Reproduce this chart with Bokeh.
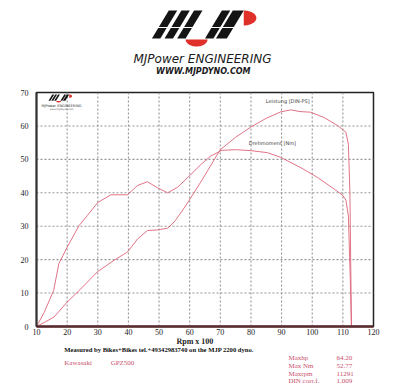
import math
from bokeh.plotting import figure
from bokeh.layouts import column
from bokeh.models import Range1d, FixedTicker, Span
from bokeh.core.properties import value
from bokeh.embed import file_html
from bokeh.resources import INLINE

# ---------------- data ----------------
rpm_power = [10, 12.5, 15.7, 20, 24.4, 29.8, 35.3, 39.7, 43, 46.2, 49.5, 52.8, 54.9, 57.5,
             59.8, 63.6, 66.9, 70, 75, 80, 85, 89.7, 93, 96, 99.5, 103.9, 108.3, 111,
             111.8, 112.3, 112.8]
power_ps = [0, 1.2, 2.8, 7.3, 11.2, 16.3, 19.8, 22.3, 26.2, 28.7, 28.9, 29.4, 31.2, 34.5,
            37.7, 43.2, 48.2, 52.9, 56.6, 59.7, 62.3, 64.2, 64.8, 64.3, 64.1, 62.5, 60.1, 58.1,
            54.5, 40, 0]
rpm_torque = [10, 12.5, 15.6, 17.3, 20, 23.9, 26.6, 30, 34.3, 39.7, 43, 46.2, 49.5, 52.8,
              56, 59.3, 63.7, 66.9, 70.5, 75, 80, 85.4, 89.7, 96.3, 101.7, 107.2, 110, 111,
              111.8, 112.4, 112.8]
torque_nm = [0, 4.2, 10.8, 18.8, 23.7, 30.2, 33.2, 37.1, 39.4, 39.4, 42.2, 43.3, 41.5, 40.0,
             41.6, 44.5, 48.5, 51.0, 52.7, 52.9, 52.6, 52.0, 50.6, 47.5, 44.6, 41.1, 39.2, 37.8,
             33, 15, 0]
x_ticks = [10, 20, 30, 40, 50, 60, 70, 80, 90, 100, 110, 120]
y_ticks = [0, 10, 20, 30, 40, 50, 60, 70]
curve_labels = ["Leistung [DIN-PS]", "Drehmoment [Nm]"]
curve_label_rpm = [92.0, 87.0]
curve_label_val = [67.6, 54.9]
info_names = ["Maxhp", "Max Nm", "Maxrpm", "DIN corr.f."]
info_values = ["64.20", "52.77", "11291", "1.009"]
bike_make = "Kawasaki"
bike_model = "GPZ500"
measured_text = "Measured by Bikes+Bikes tel.+49342983740 on the MJP 2200 dyno."
x_title = "Rpm x 100"

CURVE = "#dc6478"
PINK = "#c8506c"
GRID = "#959595"
SERIF_NAME = "Liberation Serif"
SERIF = value(SERIF_NAME)
W = 400


def draw_logo(fig, ox, oy, sx, sy, gap=True):
    bars = [(0, 10), (15, 10), (30, 10), (63, 10), (76, 13)]
    xs, ys = [], []
    for b, w in bars:
        xs.append([ox + b * sx, ox + (b + w) * sx, ox + (b + w + 20) * sx, ox + (b + 20) * sx])
        ys.append([oy + 28 * sy, oy + 28 * sy, oy, oy])
    fig.patches(xs, ys, fill_color="#141414", line_color=None)
    n = 30
    ax = [ox + (53 + 13 * math.cos(math.pi * i / n)) * sx for i in range(n + 1)]
    ay = [oy + (29 + 7 * math.sin(math.pi * i / n)) * sy for i in range(n + 1)]
    fig.patch(ax, ay, fill_color="#e0302a", line_color=None)
    bx = [ox + (109 + 15 * math.cos(-math.pi / 2 + math.pi * i / n)) * sx for i in range(n + 1)]
    by = [oy + (7.5 + 7.5 * math.sin(-math.pi / 2 + math.pi * i / n)) * sy for i in range(n + 1)]
    fig.patch(bx, by, fill_color="#e0302a", line_color=None)
    if gap:
        fig.line([ox - 2 * sx, ox + 126 * sx], [oy + 17 * sy, oy + 17 * sy], line_color="white", line_width=1.2)


# ---------------- header (picture pixels 0..84) ----------------
hdr = figure(width=W, height=84, x_range=Range1d(0, 400), y_range=Range1d(84, 0),
             x_axis_type=None, y_axis_type=None, toolbar_location=None, output_backend="svg",
             min_border=0)
hdr.grid.visible = False
hdr.outline_line_color = None
draw_logo(hdr, 137, 10, 1.0, 1.0)
hdr.text(x=[197], y=[58], text=["MJPower ENGINEERING"], text_font=value("DejaVu Sans"),
         text_font_style="italic", text_font_size="12px", text_color="#1a1a1a",
         text_align="center", text_baseline="middle")
hdr.text(x=[198], y=[71], text=["WWW.MJPDYNO.COM"], text_font=value("DejaVu Sans"),
         text_font_style="bold italic", text_font_size="8px", text_color="#1a1a1a",
         text_align="center", text_baseline="middle")

# ---------------- chart (picture pixels 84..338) ----------------
p = figure(width=W, height=254, x_range=Range1d(10, 120), y_range=Range1d(0, 70),
           toolbar_location=None, output_backend="svg",
           min_border_left=36, min_border_right=27, min_border_top=8, min_border_bottom=12)
p.outline_line_color = "#222222"
p.outline_line_width = 1.5
p.xaxis.ticker = FixedTicker(ticks=x_ticks)
p.yaxis.ticker = FixedTicker(ticks=y_ticks)
for axs in (p.xaxis, p.yaxis):
    axs.major_tick_in = 0
    axs.major_tick_out = 0
    axs.minor_tick_line_color = None
    axs.major_label_text_font = SERIF_NAME
    axs.major_label_text_font_size = "8px"
    axs.major_label_text_color = "#222222"
p.xaxis.major_label_standoff = 2
p.yaxis.major_label_standoff = 8
p.xaxis.axis_line_color = "#5a2a2e"
p.xaxis.axis_line_width = 2.5
p.yaxis.axis_line_color = "#333333"
p.yaxis.axis_line_width = 2
p.grid.visible = False

# dotted grid lines at the inner tick positions
for t in x_ticks[1:-1]:
    p.add_layout(Span(location=t, dimension="height", line_color=GRID,
                      line_dash="2 2", line_width=1.1, level="underlay"))
for t in y_ticks[1:-1]:
    p.add_layout(Span(location=t, dimension="width", line_color=GRID,
                      line_dash="2 2", line_width=1.1, level="underlay"))

p.line(rpm_torque, torque_nm, line_color=CURVE, line_width=0.9)
p.line(rpm_power, power_ps, line_color=CURVE, line_width=0.9)
p.text(x=curve_label_rpm, y=curve_label_val, text=curve_labels, text_font=value("DejaVu Sans"),
       text_font_size="5px", text_color="#444444", text_align="center", text_baseline="middle")

px_x = 110 / 337.0
px_y = 70 / 234.0
draw_logo(p, 10 + 12 * px_x, 69.4, 0.19 * px_x, -0.22 * px_y, gap=False)
p.text(x=[10 + 25 * px_x], y=[70 - 13 * px_y], text=["MJPower ENGINEERING"],
       text_font=value("DejaVu Sans"), text_font_size="3.5px", text_color="#333333",
       text_align="center", text_baseline="middle")
p.text(x=[10 + 25 * px_x], y=[70 - 16.5 * px_y], text=["www.mjpdyno.com"],
       text_font=value("DejaVu Sans"), text_font_size="2.5px", text_color="#555555",
       text_align="center", text_baseline="middle")

# ---------------- footer (picture pixels 338..386) ----------------
ft = figure(width=W, height=48, x_range=Range1d(0, 400), y_range=Range1d(386, 338),
            x_axis_type=None, y_axis_type=None, toolbar_location=None, output_backend="svg",
            min_border=0)
ft.grid.visible = False
ft.outline_line_color = None
ft.text(x=[188], y=[341], text=[x_title], text_font=SERIF, text_font_style="bold",
        text_font_size="8px", text_color="#222222", text_align="center", text_baseline="middle")
ft.text(x=[33], y=[349], text=[measured_text], text_font=SERIF, text_font_style="bold",
        text_font_size="6.6px", text_color="#111111", text_align="left", text_baseline="middle")
ft.text(x=[33, 88], y=[362, 362], text=[bike_make, bike_model], text_font=SERIF,
        text_font_size="7px", text_color=PINK, text_align="left", text_baseline="middle")
rows_y = [357, 365, 373, 380.5]
ft.text(x=[299] * 4, y=rows_y, text=info_names, text_font=SERIF, text_font_size="7px",
        text_color=PINK, text_align="left", text_baseline="middle")
ft.text(x=[356] * 4, y=rows_y, text=info_values, text_font=SERIF, text_font_size="7px",
        text_color=PINK, text_align="left", text_baseline="middle")

layout = column(hdr, p, ft, spacing=0)
open("out.html", "w").write(file_html(layout, INLINE))
